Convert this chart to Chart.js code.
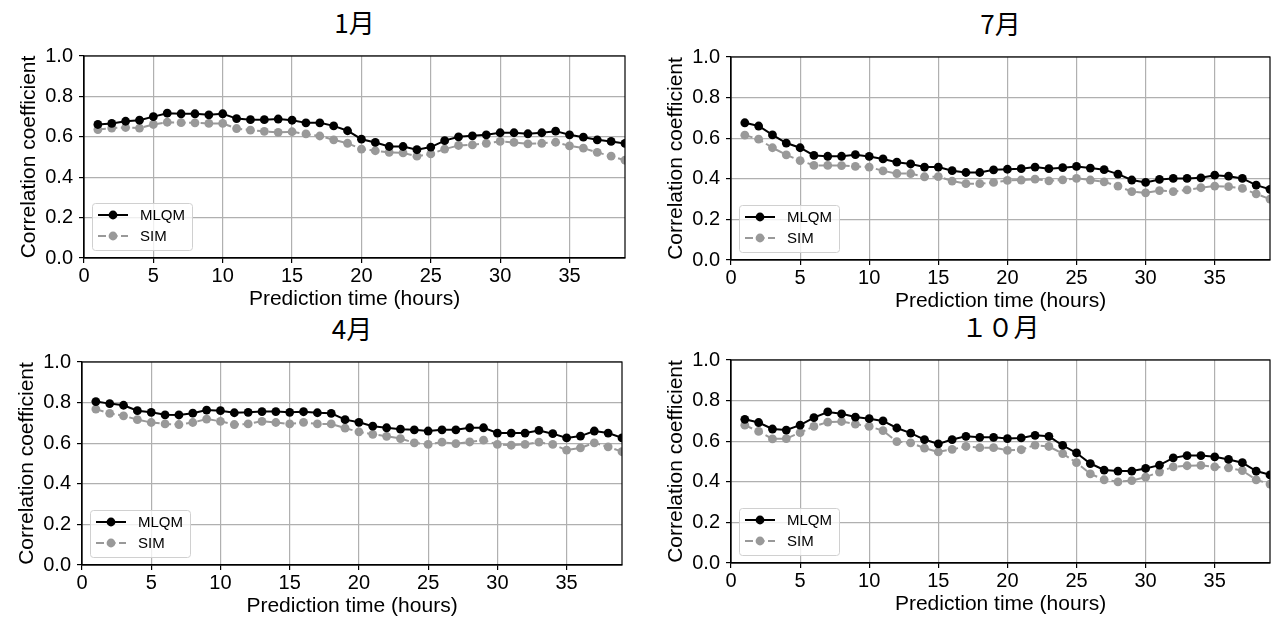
<!DOCTYPE html>
<html><head><meta charset="utf-8">
<script src="https://cdn.jsdelivr.net/npm/chart.js@4"></script>
<style>
body{margin:0;background:#fff;width:1274px;height:622px;position:relative;overflow:hidden;font-family:"Liberation Sans",Arial,sans-serif}
canvas{position:absolute}
.ttl{position:absolute;font-family:"Noto Sans CJK JP";font-size:26px;line-height:26px;color:#000;text-align:center;width:300px;white-space:nowrap}
</style></head><body>
<div class="ttl" id="t1"></div><div class="ttl" id="t2"></div><div class="ttl" id="t3"></div><div class="ttl" id="t4"></div>
<canvas id="c1"></canvas><canvas id="c2"></canvas><canvas id="c3"></canvas><canvas id="c4"></canvas>
<script>
const hours = [1,2,3,4,5,6,7,8,9,10,11,12,13,14,15,16,17,18,19,20,21,22,23,24,25,26,27,28,29,30,31,32,33,34,35,36,37,38,39];
const xTickValues = [0,5,10,15,20,25,30,35];
const yTickValues = [0,0.2,0.4,0.6,0.8,1.0];
const seriesNames = ["MLQM","SIM"];
const panelTitles = ["1月","7月","4月","１０月"];
const xTitle = "Prediction time (hours)";
const yTitle = "Correlation coefficient";

const janMLQM = [0.661,0.666,0.677,0.682,0.700,0.717,0.714,0.714,0.709,0.714,0.690,0.685,0.685,0.688,0.682,0.669,0.669,0.654,0.630,0.588,0.572,0.552,0.552,0.536,0.549,0.581,0.600,0.605,0.610,0.620,0.620,0.615,0.620,0.628,0.610,0.598,0.585,0.577,0.567];
const janSIM  = [0.636,0.643,0.646,0.643,0.661,0.672,0.670,0.669,0.666,0.666,0.641,0.633,0.627,0.622,0.625,0.614,0.604,0.585,0.568,0.539,0.531,0.523,0.520,0.504,0.515,0.539,0.557,0.560,0.568,0.577,0.572,0.565,0.568,0.573,0.555,0.544,0.523,0.504,0.484];
const julMLQM = [0.676,0.660,0.616,0.576,0.553,0.515,0.511,0.511,0.519,0.510,0.498,0.482,0.473,0.458,0.458,0.440,0.431,0.431,0.444,0.447,0.450,0.458,0.450,0.455,0.461,0.453,0.445,0.423,0.394,0.382,0.397,0.402,0.402,0.405,0.418,0.413,0.402,0.369,0.348];
const julSIM  = [0.615,0.595,0.553,0.518,0.490,0.466,0.466,0.465,0.461,0.458,0.439,0.426,0.426,0.410,0.411,0.389,0.376,0.376,0.382,0.392,0.394,0.398,0.390,0.395,0.402,0.394,0.385,0.364,0.337,0.331,0.342,0.337,0.345,0.356,0.364,0.361,0.353,0.326,0.300];
const aprMLQM = [0.805,0.795,0.787,0.760,0.752,0.740,0.739,0.748,0.763,0.760,0.750,0.752,0.756,0.756,0.752,0.755,0.750,0.747,0.716,0.703,0.684,0.676,0.669,0.666,0.660,0.666,0.666,0.676,0.676,0.650,0.650,0.650,0.663,0.647,0.626,0.635,0.660,0.650,0.626];
const aprSIM  = [0.768,0.747,0.735,0.716,0.702,0.695,0.692,0.702,0.719,0.708,0.692,0.695,0.708,0.702,0.695,0.703,0.695,0.695,0.674,0.656,0.644,0.634,0.623,0.602,0.594,0.605,0.598,0.606,0.615,0.594,0.590,0.594,0.605,0.594,0.566,0.577,0.602,0.582,0.558];
const octMLQM = [0.708,0.692,0.660,0.655,0.679,0.716,0.744,0.735,0.719,0.711,0.700,0.665,0.640,0.608,0.587,0.608,0.624,0.619,0.619,0.613,0.616,0.629,0.624,0.579,0.542,0.490,0.458,0.453,0.453,0.466,0.482,0.518,0.529,0.529,0.523,0.510,0.494,0.453,0.434];
const octSIM  = [0.679,0.648,0.611,0.613,0.642,0.673,0.694,0.697,0.684,0.673,0.652,0.598,0.592,0.566,0.547,0.560,0.574,0.568,0.568,0.555,0.558,0.581,0.574,0.539,0.494,0.439,0.410,0.400,0.406,0.423,0.448,0.474,0.479,0.481,0.474,0.469,0.455,0.410,0.389];

const FONT = '"Liberation Sans", Arial, sans-serif';
const GRAY = '#999999';

const framePlugin = {
  id: 'frame',
  afterDatasetsDraw(chart) {
    const {ctx, chartArea: a} = chart;
    ctx.save();
    ctx.strokeStyle = '#000'; ctx.lineWidth = 1.2;
    ctx.strokeRect(a.left, a.top, a.right - a.left, a.bottom - a.top);
    ctx.restore();
  }
};
const legendPlugin = {
  id: 'mplLegend',
  afterDraw(chart) {
    const {ctx, chartArea: a} = chart;
    const bx = a.left + 8, bw = 100, bh = 47, by = a.bottom - 8 - bh;
    ctx.save();
    ctx.beginPath();
    if (ctx.roundRect) ctx.roundRect(bx + 0.5, by + 0.5, bw, bh, 3); else ctx.rect(bx + 0.5, by + 0.5, bw, bh);
    ctx.fillStyle = 'rgba(255,255,255,0.8)'; ctx.fill();
    ctx.strokeStyle = '#d0d0d0'; ctx.lineWidth = 1; ctx.stroke();
    chart.data.datasets.forEach((ds, i) => {
      const yy = by + 12 + i * 21;
      ctx.beginPath();
      ctx.setLineDash(ds.borderDash || []);
      ctx.strokeStyle = ds.borderColor; ctx.lineWidth = ds.borderWidth;
      ctx.moveTo(bx + 6, yy); ctx.lineTo(bx + 36, yy); ctx.stroke();
      ctx.setLineDash([]);
      ctx.beginPath(); ctx.fillStyle = ds.pointBackgroundColor;
      ctx.arc(bx + 21, yy, ds.pointRadius, 0, Math.PI * 2); ctx.fill();
      ctx.fillStyle = '#000'; ctx.font = '15px ' + FONT; ctx.textBaseline = 'middle'; ctx.textAlign = 'left';
      ctx.fillText(ds.label, bx + 48, yy + 1);
    });
    ctx.restore();
  }
};

function makeChart(id, tid, title, box, mlqm, sim) {
  const PL = 84, PT = 14, PR = 10, XH = 54;
  const cv = document.getElementById(id);
  const w = box.R - box.L + PL + PR, h = box.B - box.T + PT + XH;
  cv.width = w; cv.height = h;
  cv.style.width = w + 'px'; cv.style.height = h + 'px';
  cv.style.left = (box.L - PL) + 'px'; cv.style.top = (box.T - PT) + 'px';
  const t = document.getElementById(tid);
  t.textContent = title;
  t.style.left = ((box.L + box.R) / 2 - 150) + 'px';
  t.style.top = (box.T - 43) + 'px';
  const mk = arr => hours.map((x, i) => ({x: x, y: arr[i]}));
  new Chart(cv, {
    type: 'line',
    data: {datasets: [
      {label: seriesNames[0], data: mk(mlqm), borderColor: '#000', backgroundColor: '#000', pointBackgroundColor: '#000', borderWidth: 2, pointRadius: 4.4, pointBorderWidth: 0, clip: 0, tension: 0},
      {label: seriesNames[1], data: mk(sim), borderColor: GRAY, backgroundColor: GRAY, pointBackgroundColor: GRAY, borderWidth: 2, borderDash: [8, 3.5], pointRadius: 4.4, pointBorderWidth: 0, clip: 0, tension: 0}
    ]},
    options: {
      responsive: false, devicePixelRatio: 1, animation: false,
      layout: {padding: {top: PT, right: PR, left: 0, bottom: 0}},
      plugins: {legend: {display: false}, tooltip: {enabled: false}},
      scales: {
        x: {
          type: 'linear', min: 0, max: 39,
          afterBuildTicks: s => { s.ticks = xTickValues.map(v => ({value: v})); },
          afterFit: s => { s.height = XH; },
          grid: {color: '#b0b0b0', lineWidth: 1.2, tickLength: 5, tickColor: '#000', tickWidth: 1.2},
          border: {display: true, color: '#000', width: 1.2},
          ticks: {font: {size: 20, family: FONT}, color: '#000', padding: 1, maxRotation: 0, autoSkip: false, callback: v => String(v)},
          title: {display: true, text: xTitle, font: {size: 21, family: FONT}, color: '#000', padding: {top: 0, bottom: 0}}
        },
        y: {
          min: 0, max: 1,
          afterBuildTicks: s => { s.ticks = yTickValues.map(v => ({value: v})); },
          afterFit: s => { s.width = PL; },
          grid: {color: '#b0b0b0', lineWidth: 1.2, tickLength: 5, tickColor: '#000', tickWidth: 1.2},
          border: {display: true, color: '#000', width: 1.2},
          ticks: {font: {size: 20, family: FONT}, color: '#000', padding: 6, autoSkip: false, callback: v => Number(v).toFixed(1)},
          title: {display: true, text: yTitle, font: {size: 21, family: FONT}, color: '#000', padding: {top: 17, bottom: 0}}
        }
      }
    },
    plugins: [framePlugin, legendPlugin]
  });
}

makeChart('c1', 't1', panelTitles[0], {L: 84, T: 52, R: 625, B: 258}, janMLQM, janSIM);
makeChart('c2', 't2', panelTitles[1], {L: 731, T: 53, R: 1270, B: 260}, julMLQM, julSIM);
makeChart('c3', 't3', panelTitles[2], {L: 82, T: 358, R: 622, B: 565}, aprMLQM, aprSIM);
makeChart('c4', 't4', panelTitles[3], {L: 731, T: 356, R: 1270, B: 563}, octMLQM, octSIM);
</script>
</body></html>
